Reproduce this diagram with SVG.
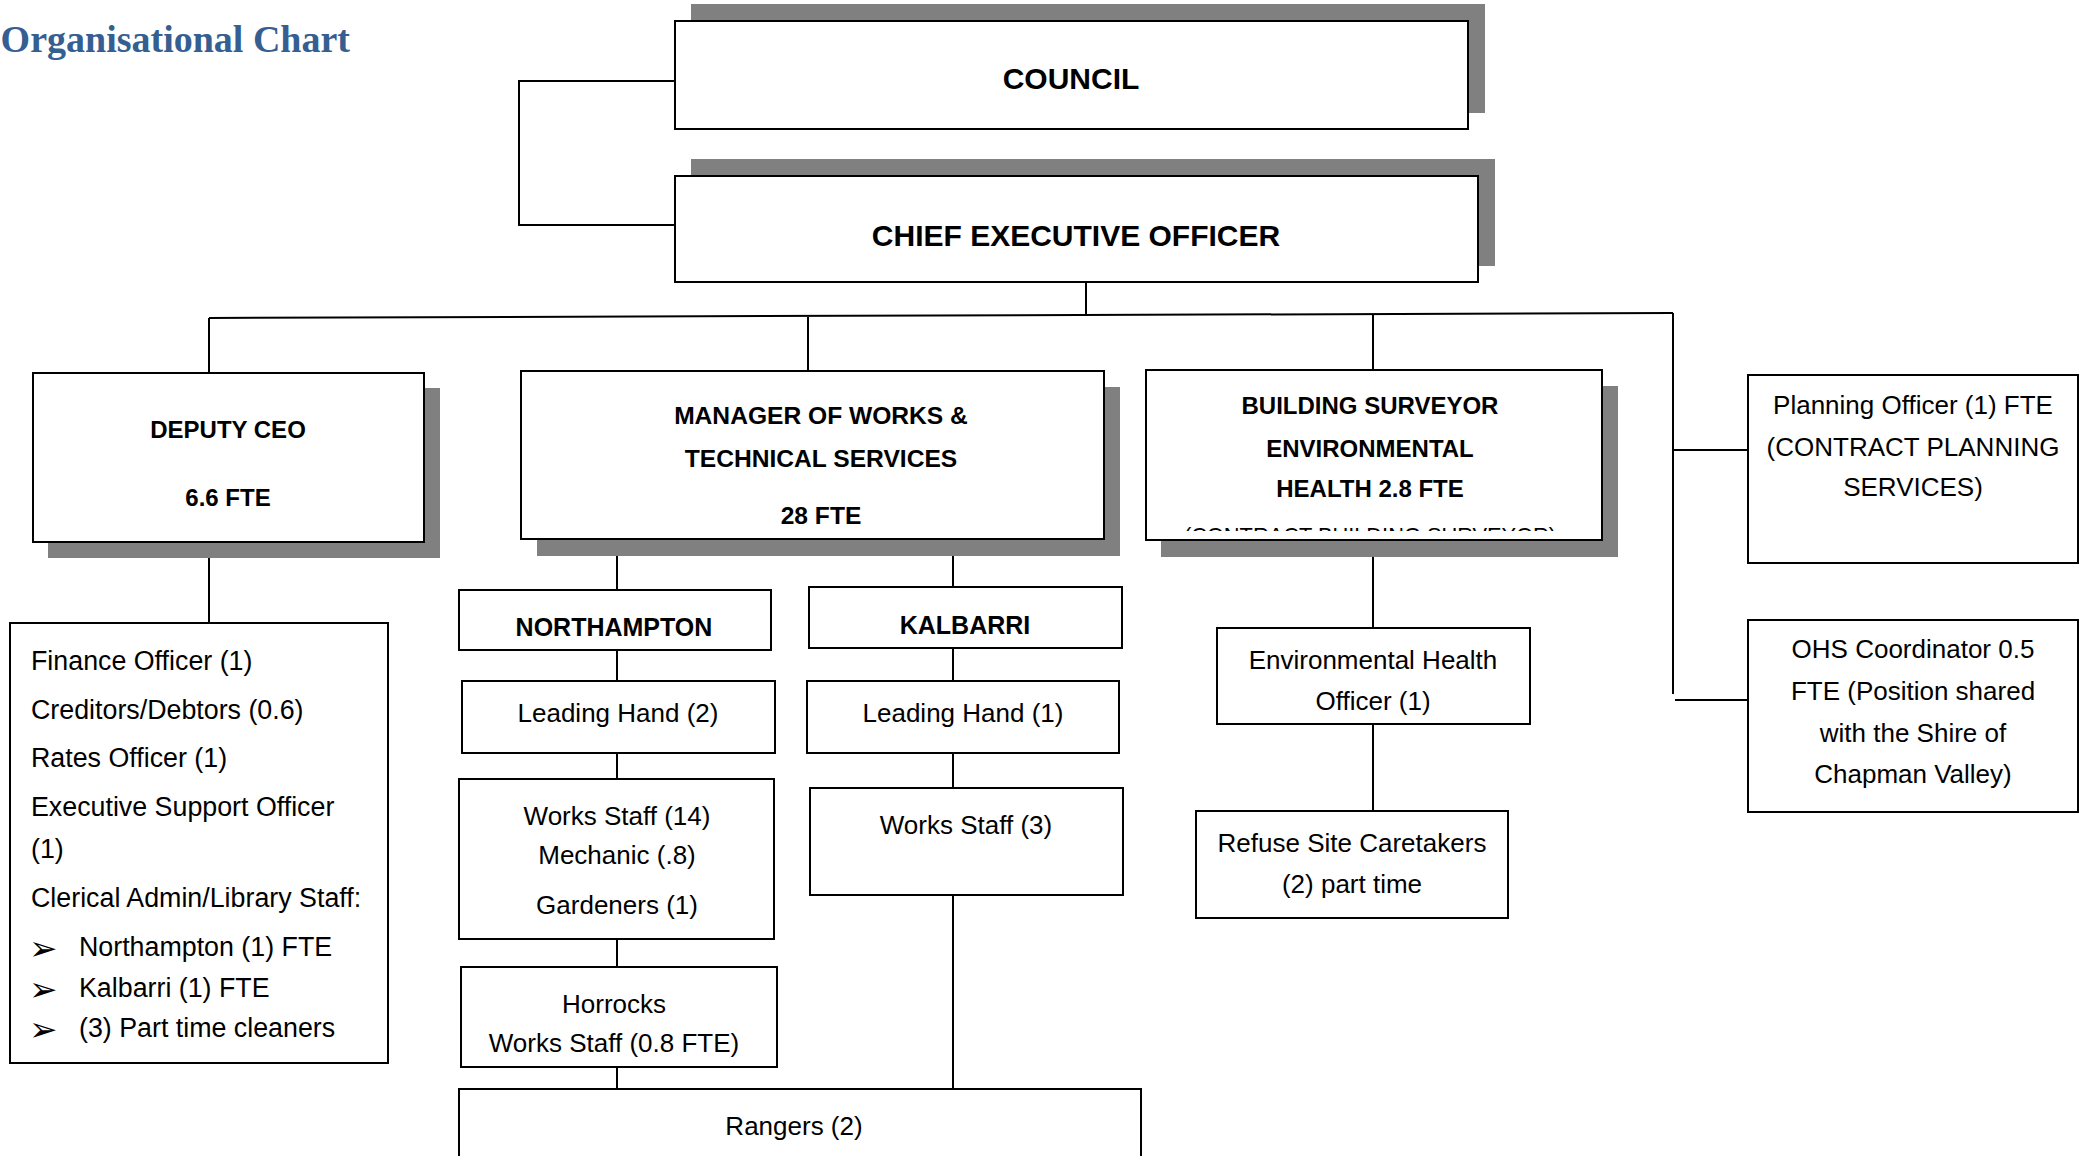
<svg xmlns="http://www.w3.org/2000/svg" width="2087" height="1156" viewBox="0 0 2087 1156">
<style>
.box{fill:#fff;stroke:#000;stroke-width:2}
.sh{fill:#808080}
.c{stroke:#000;stroke-width:2;fill:none}
.b{font-family:"Liberation Sans",Arial,sans-serif;font-weight:bold;fill:#000;font-size:24px;text-anchor:middle}
.bl{font-size:30px}
.b25{font-size:25px}
.b246{font-size:24.6px}
.r{font-family:"Liberation Sans",Arial,sans-serif;fill:#000;font-size:26px}
.l{font-size:26.8px}
.frag{font-size:21.8px}
.m{text-anchor:middle}
.bul{font-family:"DejaVu Sans",sans-serif;font-size:34px;fill:#000}
</style>
<defs>
<clipPath id="cutBS"><rect x="1148" y="520" width="452" height="11"/></clipPath>
</defs>
<rect width="2087" height="1156" fill="#fff"/>
<text x="350" y="52" text-anchor="end" font-family="'Liberation Serif',Cambria,serif" font-weight="bold" font-size="38" fill="#365F91">Organisational Chart</text>

<g id="connectors">
<path class="c" d="M675 81H519V225H675"/>
<path class="c" d="M1086 282V314"/>
<path class="c" d="M209 318L1673 313"/>
<path class="c" d="M209 318V373"/>
<path class="c" d="M808 317V371"/>
<path class="c" d="M1373 315V370"/>
<path class="c" d="M1673 313V694"/>
<path class="c" d="M1673 450H1748"/>
<path class="c" d="M1675 700H1748"/>
<path class="c" d="M209 542V623"/>
<path class="c" d="M617 539V590"/>
<path class="c" d="M953 539V587"/>
<path class="c" d="M617 650V681"/>
<path class="c" d="M617 753V779"/>
<path class="c" d="M617 939V967"/>
<path class="c" d="M617 1067V1089"/>
<path class="c" d="M953 648V681"/>
<path class="c" d="M953 753V788"/>
<path class="c" d="M953 895V1089"/>
<path class="c" d="M1373 540V628"/>
<path class="c" d="M1373 724V811"/>
</g>

<g id="council">
<rect class="sh" x="691" y="4" width="794" height="109"/>
<rect class="box" x="675" y="21" width="793" height="108"/>
<text class="b bl" x="1071" y="89">COUNCIL</text>
</g>

<g id="ceo">
<rect class="sh" x="691" y="159" width="804" height="107"/>
<rect class="box" x="675" y="176" width="803" height="106"/>
<text class="b bl" x="1076" y="246">CHIEF EXECUTIVE OFFICER</text>
</g>

<g id="deputy-ceo">
<rect class="sh" x="48" y="388" width="392" height="170"/>
<rect class="box" x="33" y="373" width="391" height="169"/>
<text class="b" x="228" y="438">DEPUTY CEO</text>
<text class="b" x="228" y="506">6.6 FTE</text>
</g>

<g id="manager-works">
<rect class="sh" x="537" y="387" width="583" height="169"/>
<rect class="box" x="521" y="371" width="583" height="168"/>
<text class="b b246" x="821" y="424">MANAGER OF WORKS &amp;</text>
<text class="b b246" x="821" y="467">TECHNICAL SERVICES</text>
<text class="b b246" x="821" y="524">28 FTE</text>
</g>

<g id="building-surveyor">
<rect class="sh" x="1161" y="386" width="457" height="171"/>
<rect class="box" x="1146" y="370" width="456" height="170"/>
<text class="b" x="1370" y="414">BUILDING SURVEYOR</text>
<text class="b" x="1370" y="457">ENVIRONMENTAL</text>
<text class="b" x="1370" y="497">HEALTH 2.8 FTE</text>
<text class="r m frag" x="1370" y="543" clip-path="url(#cutBS)">(CONTRACT BUILDING SURVEYOR)</text>
</g>

<g id="planning-officer">
<rect class="box" x="1748" y="375" width="330" height="188"/>
<text class="r m" x="1913" y="414">Planning Officer (1) FTE</text>
<text class="r m" x="1913" y="456">(CONTRACT PLANNING</text>
<text class="r m" x="1913" y="496">SERVICES)</text>
</g>

<g id="ohs-coordinator">
<rect class="box" x="1748" y="620" width="330" height="192"/>
<text class="r m" x="1913" y="658">OHS Coordinator 0.5</text>
<text class="r m" x="1913" y="700">FTE (Position shared</text>
<text class="r m" x="1913" y="742">with the Shire of</text>
<text class="r m" x="1913" y="783">Chapman Valley)</text>
</g>

<g id="deputy-staff">
<rect class="box" x="10" y="623" width="378" height="440"/>
<text class="r l" x="31" y="670">Finance Officer (1)</text>
<text class="r l" x="31" y="719">Creditors/Debtors (0.6)</text>
<text class="r l" x="31" y="767">Rates Officer (1)</text>
<text class="r l" x="31" y="816">Executive Support Officer</text>
<text class="r l" x="31" y="858">(1)</text>
<text class="r l" x="31" y="907">Clerical Admin/Library Staff:</text>
<text class="bul" x="29" y="960">➢</text>
<text class="r l" x="79" y="956">Northampton (1) FTE</text>
<text class="bul" x="29" y="1001">➢</text>
<text class="r l" x="79" y="997">Kalbarri (1) FTE</text>
<text class="bul" x="29" y="1041">➢</text>
<text class="r l" x="79" y="1037">(3) Part time cleaners</text>
</g>

<g id="northampton">
<rect class="box" x="459" y="590" width="312" height="60"/>
<text class="b b25" x="614" y="636">NORTHAMPTON</text>
</g>

<g id="kalbarri">
<rect class="box" x="809" y="587" width="313" height="61"/>
<text class="b b25" x="965" y="634">KALBARRI</text>
</g>

<g id="leading-hand-2">
<rect class="box" x="462" y="681" width="313" height="72"/>
<text class="r m" x="618" y="722">Leading Hand (2)</text>
</g>

<g id="leading-hand-1">
<rect class="box" x="807" y="681" width="312" height="72"/>
<text class="r m" x="963" y="722">Leading Hand (1)</text>
</g>

<g id="works-staff-14">
<rect class="box" x="459" y="779" width="315" height="160"/>
<text class="r m" x="617" y="825">Works Staff (14)</text>
<text class="r m" x="617" y="864">Mechanic (.8)</text>
<text class="r m" x="617" y="914">Gardeners (1)</text>
</g>

<g id="works-staff-3">
<rect class="box" x="810" y="788" width="313" height="107"/>
<text class="r m" x="966" y="834">Works Staff (3)</text>
</g>

<g id="horrocks">
<rect class="box" x="461" y="967" width="316" height="100"/>
<text class="r m" x="614" y="1013">Horrocks</text>
<text class="r m" x="614" y="1052">Works Staff (0.8 FTE)</text>
</g>

<g id="rangers">
<rect class="box" x="459" y="1089" width="682" height="90"/>
<text class="r m" x="794" y="1135">Rangers (2)</text>
</g>

<g id="env-health-officer">
<rect class="box" x="1217" y="628" width="313" height="96"/>
<text class="r m" x="1373" y="669">Environmental Health</text>
<text class="r m" x="1373" y="710">Officer (1)</text>
</g>

<g id="refuse-site">
<rect class="box" x="1196" y="811" width="312" height="107"/>
<text class="r m" x="1352" y="852">Refuse Site Caretakers</text>
<text class="r m" x="1352" y="893">(2) part time</text>
</g>
</svg>
